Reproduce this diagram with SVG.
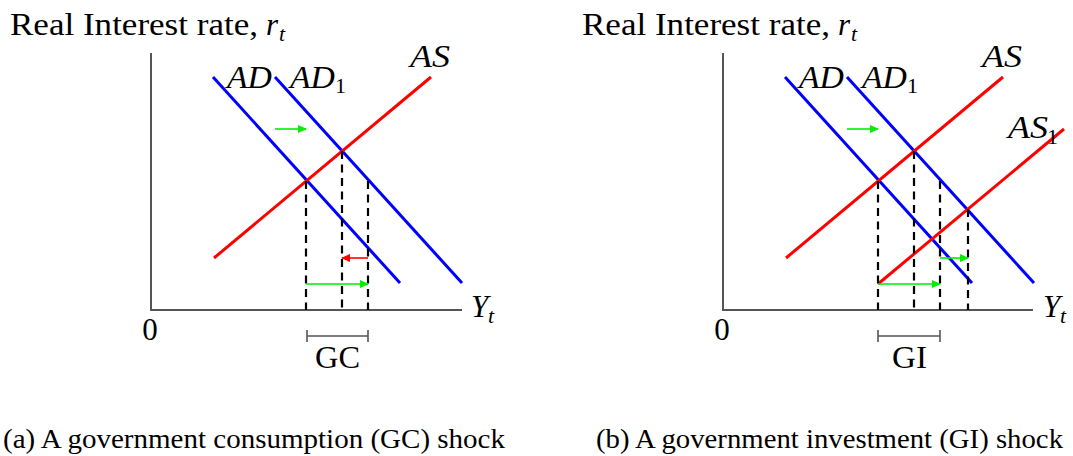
<svg xmlns="http://www.w3.org/2000/svg" width="1073" height="456" viewBox="0 0 1073 456">
<style>
.txt{font-family:"Liberation Serif","Times New Roman",serif;font-size:31px;fill:#000}
.it{font-family:"Liberation Serif","Times New Roman",serif;font-style:italic;font-size:31px;fill:#000}
.sub{font-family:"Liberation Serif","Times New Roman",serif;font-size:22px;fill:#000}
.subi{font-family:"Liberation Serif","Times New Roman",serif;font-style:italic;font-size:22px;fill:#000}
.cap{font-family:"Liberation Serif","Times New Roman",serif;font-size:28px;fill:#000}
.axis{stroke:#555;stroke-width:2;fill:none}
.ad{stroke:#0000ff;stroke-width:3;fill:none}
.as{stroke:#ff0000;stroke-width:3;fill:none}
.dash{stroke:#000;stroke-width:2.2;stroke-dasharray:8 5.5;fill:none}
.garr{stroke:#00ee00;stroke-width:1.6;fill:none;marker-end:url(#gh)}
.rarr{stroke:#ff0000;stroke-width:1.6;fill:none;marker-end:url(#rh)}
.brk{stroke:#555;stroke-width:1.6;fill:none}
</style>
<defs>
<marker id="gh" markerUnits="userSpaceOnUse" markerWidth="9" markerHeight="8" refX="8" refY="4" orient="auto"><path d="M0,0 L9,4 L0,8 z" fill="#00ee00"/></marker>
<marker id="rh" markerUnits="userSpaceOnUse" markerWidth="9" markerHeight="8" refX="8" refY="4" orient="auto"><path d="M0,0 L9,4 L0,8 z" fill="#ff0000"/></marker>
</defs>

<!-- Panel (a) -->
<g id="panel-a">
  <g id="a-axes">
    <path class="axis" d="M151,53 V310 H462"/>
    <text class="txt" x="10" y="35" textLength="248" lengthAdjust="spacingAndGlyphs">Real Interest rate,</text>
    <text class="it" x="266" y="35">r</text><text class="subi" x="279" y="41">t</text>
    <text class="it" x="471" y="317">Y</text><text class="subi" x="488" y="323">t</text>
    <text class="txt" x="150" y="340" text-anchor="middle">0</text>
  </g>
  <g id="a-AD">
    <line class="ad" x1="213" y1="77" x2="400" y2="283"/>
    <text class="it" x="227" y="88" textLength="45" lengthAdjust="spacingAndGlyphs">AD</text>
  </g>
  <g id="a-AD1">
    <line class="ad" x1="275" y1="77" x2="462" y2="283"/>
    <text class="it" x="290" y="88" textLength="45" lengthAdjust="spacingAndGlyphs">AD</text><text class="sub" x="335" y="93">1</text>
  </g>
  <g id="a-AS">
    <line class="as" x1="214" y1="258" x2="431" y2="77"/>
    <text class="it" x="410" y="67" textLength="40" lengthAdjust="spacingAndGlyphs">AS</text>
  </g>
  <g id="a-connectors">
    <line class="dash" x1="306" y1="181" x2="306" y2="310"/>
    <line class="dash" x1="342" y1="151" x2="342" y2="310"/>
    <line class="dash" x1="368" y1="181" x2="368" y2="310"/>
    <line class="garr" x1="275" y1="129" x2="306" y2="129"/>
    <line class="rarr" x1="368" y1="258" x2="342" y2="258"/>
    <line class="garr" x1="306" y1="284" x2="368" y2="284"/>
  </g>
  <g id="a-GC">
    <path class="brk" d="M307,330 V342 M307,336 H368 M368,330 V342"/>
    <text class="txt" x="337.5" y="368" text-anchor="middle" textLength="45" lengthAdjust="spacingAndGlyphs">GC</text>
  </g>
  <text class="cap" x="3" y="448" textLength="502" lengthAdjust="spacingAndGlyphs">(a) A government consumption (GC) shock</text>
</g>

<!-- Panel (b) -->
<g id="panel-b">
  <g id="b-axes">
    <path class="axis" d="M723,53 V310 H1033"/>
    <text class="txt" x="582" y="35" textLength="248" lengthAdjust="spacingAndGlyphs">Real Interest rate,</text>
    <text class="it" x="838" y="35">r</text><text class="subi" x="851" y="41">t</text>
    <text class="it" x="1043" y="317">Y</text><text class="subi" x="1060" y="323">t</text>
    <text class="txt" x="722" y="340" text-anchor="middle">0</text>
  </g>
  <g id="b-AD">
    <line class="ad" x1="785" y1="77" x2="972" y2="283"/>
    <text class="it" x="799" y="88" textLength="45" lengthAdjust="spacingAndGlyphs">AD</text>
  </g>
  <g id="b-AD1">
    <line class="ad" x1="847" y1="77" x2="1034" y2="283"/>
    <text class="it" x="862" y="88" textLength="45" lengthAdjust="spacingAndGlyphs">AD</text><text class="sub" x="907" y="93">1</text>
  </g>
  <g id="b-AS">
    <line class="as" x1="786" y1="258" x2="1003" y2="77"/>
    <text class="it" x="982" y="67" textLength="40" lengthAdjust="spacingAndGlyphs">AS</text>
  </g>
  <g id="b-AS1">
    <line class="as" x1="878" y1="284" x2="1064" y2="129"/>
    <text class="it" x="1008" y="138" textLength="40" lengthAdjust="spacingAndGlyphs">AS</text><text class="sub" x="1047" y="144">1</text>
  </g>
  <g id="b-connectors">
    <line class="dash" x1="878" y1="181" x2="878" y2="310"/>
    <line class="dash" x1="914" y1="151" x2="914" y2="310"/>
    <line class="dash" x1="940" y1="181" x2="940" y2="310"/>
    <line class="dash" x1="968" y1="209" x2="968" y2="310"/>
    <line class="garr" x1="847" y1="129" x2="878" y2="129"/>
    <line class="garr" x1="878" y1="284" x2="940" y2="284"/>
    <line class="garr" x1="940" y1="258" x2="968" y2="258"/>
  </g>
  <g id="b-GI">
    <path class="brk" d="M878,330 V342 M878,336 H940 M940,330 V342"/>
    <text class="txt" x="909.5" y="368" text-anchor="middle" textLength="35" lengthAdjust="spacingAndGlyphs">GI</text>
  </g>
  <text class="cap" x="596" y="448" textLength="467" lengthAdjust="spacingAndGlyphs">(b) A government investment (GI) shock</text>
</g>
</svg>
